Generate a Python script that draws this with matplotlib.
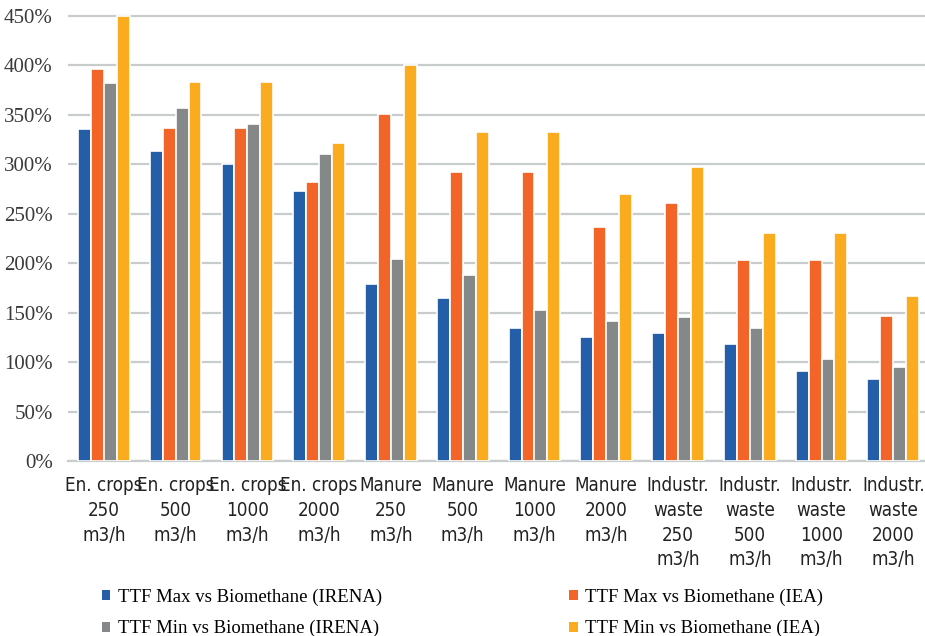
import numpy as np
import matplotlib
matplotlib.use("Agg")
import matplotlib.pyplot as plt
from matplotlib.patches import Patch

# Gas price ratio: TTF vs biomethane production cost, per plant type and size
categories = [
    "En. crops\n250\nm3/h", "En. crops\n500\nm3/h", "En. crops\n1000\nm3/h", "En. crops\n2000\nm3/h",
    "Manure\n250\nm3/h", "Manure\n500\nm3/h", "Manure\n1000\nm3/h", "Manure\n2000\nm3/h",
    "Industr.\nwaste\n250\nm3/h", "Industr.\nwaste\n500\nm3/h", "Industr.\nwaste\n1000\nm3/h", "Industr.\nwaste\n2000\nm3/h",
]
series_names = [
    "TTF Max vs Biomethane (IRENA)",
    "TTF Max vs Biomethane (IEA)",
    "TTF Min vs Biomethane (IRENA)",
    "TTF Min vs Biomethane (IEA)",
]
ttf_max_irena = [336, 313, 300, 273, 179, 165, 134, 125, 129, 118, 91, 83]
ttf_max_iea = [396, 337, 337, 282, 351, 292, 292, 237, 261, 203, 203, 147]
ttf_min_irena = [382, 357, 341, 310, 204, 188, 153, 142, 146, 134, 103, 95]
ttf_min_iea = [450, 383, 383, 321, 400, 333, 333, 270, 297, 230, 230, 167]
colors = ["#255ea8", "#f26428", "#848889", "#fbab1e"]

series = [ttf_max_irena, ttf_max_iea, ttf_min_irena, ttf_min_iea]

fig = plt.figure(figsize=(9.25, 6.36), dpi=100)
ax = fig.add_axes([0.0735, 0.2752, 0.931, 0.703])

x = np.arange(len(categories))
width = 0.18
for i, (vals, col) in enumerate(zip(series, colors)):
    ax.bar(x + (i - 1.5) * width, vals, width, color=col,
           edgecolor="white", linewidth=1.2, zorder=3)

ax.set_xlim(-0.5, len(categories) - 0.5)
ax.set_ylim(0, 452)
ax.set_yticks(np.arange(0, 451, 50))
ax.set_yticklabels([f"{v}%" for v in range(0, 451, 50)],
                   fontfamily="Liberation Serif", fontsize=15, color="#3a3a3a")
ax.grid(axis="y", color="#c8cccc", linewidth=1.6, zorder=0)
ax.set_axisbelow(True)
for side in ["top", "right", "left"]:
    ax.spines[side].set_visible(False)
ax.spines["bottom"].set_color("#c8cccc")
ax.spines["bottom"].set_linewidth(1.6)
ax.tick_params(axis="y", length=0, pad=11)
ax.tick_params(axis="x", length=0, pad=11)
ax.set_xticks(x)
ax.set_xticklabels(categories, fontfamily="DejaVu Sans", fontstretch="condensed",
                   fontsize=13.5, color="#222222", linespacing=1.38)

# legend in two columns, IRENA on the left and IEA on the right
order = [0, 2, 1, 3]
handles = [Patch(facecolor=colors[i], edgecolor="none") for i in order]
labels = [series_names[i] for i in order]
fig.legend(handles, labels, ncol=2, loc="upper left", bbox_to_anchor=(0.1, 0.089),
           frameon=False, prop={"family": "Liberation Serif", "size": 13.5},
           handlelength=0.45, handleheight=0.45, handletextpad=0.4,
           columnspacing=10.0, labelspacing=0.75, borderpad=0)

fig.savefig("out.png", dpi=100)
